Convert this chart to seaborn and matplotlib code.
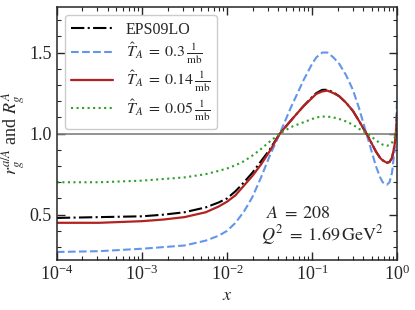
import numpy as np
import pandas as pd
import seaborn as sns
import matplotlib.pyplot as plt
from matplotlib.ticker import MultipleLocator, LogLocator

# values (log10 x grid)
log_x = [-4.0, -3.5, -3.0, -2.75, -2.5, -2.25, -2.1, -2.0, -1.9, -1.8, -1.7, -1.6,
         -1.5, -1.38, -1.25, -1.1, -1.0, -0.95, -0.88, -0.82, -0.75, -0.68, -0.6,
         -0.52, -0.45, -0.4, -0.35, -0.3, -0.25, -0.2, -0.17, -0.12, -0.09, -0.06,
         -0.03, -0.015, 0.0]
eps09 = [0.48, 0.485, 0.49, 0.50, 0.515, 0.545, 0.575, 0.60, 0.645, 0.70, 0.76, 0.83,
         0.90, 1.0, 1.08, 1.17, 1.225, 1.25, 1.27, 1.27, 1.255, 1.23, 1.19,
         1.14, 1.08, 1.035, 0.99, 0.94, 0.89, 0.85, 0.835, 0.82, 0.825, 0.85,
         0.93, 1.0, 1.13]
t_03 = [0.27, 0.275, 0.29, 0.30, 0.31, 0.34, 0.37, 0.40, 0.45, 0.52, 0.61, 0.73,
        0.86, 1.0, 1.16, 1.33, 1.43, 1.47, 1.50, 1.50, 1.47, 1.43, 1.36,
        1.27, 1.16, 1.07, 0.98, 0.89, 0.80, 0.73, 0.70, 0.685, 0.70, 0.76,
        0.90, 1.02, 1.22]
t_014 = [0.45, 0.45, 0.46, 0.47, 0.485, 0.515, 0.55, 0.58, 0.62, 0.68, 0.74, 0.81,
         0.89, 1.0, 1.08, 1.17, 1.22, 1.245, 1.26, 1.265, 1.25, 1.23, 1.19,
         1.14, 1.08, 1.035, 0.99, 0.94, 0.89, 0.85, 0.835, 0.82, 0.825, 0.85,
         0.93, 1.0, 1.13]
t_005 = [0.70, 0.70, 0.71, 0.72, 0.73, 0.75, 0.77, 0.785, 0.805, 0.83, 0.865, 0.905,
         0.95, 1.0, 1.04, 1.07, 1.09, 1.10, 1.105, 1.105, 1.10, 1.09, 1.075,
         1.055, 1.03, 1.015, 1.0, 0.98, 0.96, 0.94, 0.932, 0.925, 0.93, 0.945,
         0.975, 1.0, 1.06]

labels = ["EPS09LO",
          r"$\hat{T}_A\;=\;0.3\,\frac{1}{\mathrm{mb}}$",
          r"$\hat{T}_A\;=\;0.14\,\frac{1}{\mathrm{mb}}$",
          r"$\hat{T}_A\;=\;0.05\,\frac{1}{\mathrm{mb}}$"]
series = [eps09, t_03, t_014, t_005]
colors = ["black", "#6495ED", "#B22222", "#2CA02C"]
styles = ["-.", "--", "-", ":"]

sns.set_style("ticks")
plt.rcParams['font.family'] = ['Liberation Serif', 'DejaVu Serif']
plt.rcParams['mathtext.fontset'] = 'stix'

fig = plt.figure(figsize=(4.15, 3.10), dpi=100)
ax = fig.add_axes([0.137, 0.161, 0.82, 0.816])

x = 10 ** np.array(log_x)
ax.axhline(1.0, color='#808080', lw=1.2, zorder=1)
for vals, lab, c, ls in zip(series, labels, colors, styles):
    df = pd.DataFrame({'x': x, 'y': vals})
    sns.lineplot(data=df, x='x', y='y', ax=ax, color=c, linestyle=ls,
                 lw=1.5 if ls != '-' else 1.6, label=lab)

ax.set_xscale('log')
ax.set_xlim(1e-4, 1)
ax.set_ylim(0.22, 1.78)
ax.yaxis.set_major_locator(MultipleLocator(0.5))
ax.yaxis.set_minor_locator(MultipleLocator(0.1))
ax.xaxis.set_major_locator(LogLocator(base=10, numticks=10))
ax.xaxis.set_minor_locator(LogLocator(base=10, subs=np.arange(2, 10), numticks=20))
ax.tick_params(which='both', direction='in', top=True, right=True, labelsize=13)
ax.tick_params(which='major', length=6, width=1)
ax.tick_params(which='minor', length=3, width=0.8)
for s in ax.spines.values():
    s.set_linewidth(1.1)

ax.set_xlabel(r"$x$", fontsize=13, labelpad=2)
ax.set_ylabel(r"$r_g^{a/A}$ and $R_g^A$", fontsize=13, labelpad=2)

ax.legend(loc='upper left', fontsize=11.5, handlelength=2.6, frameon=True,
          borderpad=0.4, labelspacing=0.2, handletextpad=0.8, fancybox=True,
          framealpha=1, edgecolor='#cccccc')

ax.text(0.615, 0.186, r"$A\;=\;208$", transform=ax.transAxes, fontsize=13,
        va='center', ha='left')
ax.text(0.60, 0.100, r"$Q^2\;=\;1.69\,\mathrm{GeV}^2$", transform=ax.transAxes,
        fontsize=13, va='center', ha='left')

fig.savefig("out.png", dpi=100)
